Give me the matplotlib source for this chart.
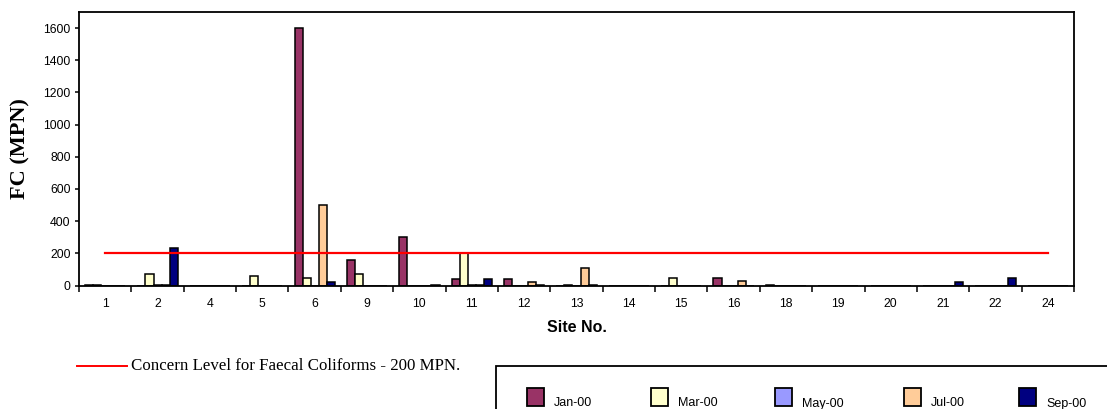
import numpy as np
import matplotlib
matplotlib.use("Agg")
import matplotlib.pyplot as plt
from matplotlib.patches import Rectangle
from matplotlib.lines import Line2D

# Faecal coliform counts (MPN) per sampling site and survey month
sites = ['1', '2', '4', '5', '6', '9', '10', '11', '12', '13',
         '14', '15', '16', '18', '19', '20', '21', '22', '24']
months = ['Jan-00', 'Mar-00', 'May-00', 'Jul-00', 'Sep-00']
jan = [4, 0, 0, 0, 1600, 160, 300, 43, 43, 0, 0, 0, 45, 3, 0, 0, 0, 0, 0]
mar = [3, 70, 0, 58, 48, 72, 0, 200, 0, 3, 0, 45, 0, 0, 0, 0, 0, 0, 0]
may = [0, 3, 0, 0, 0, 0, 0, 3, 0, 0, 0, 0, 0, 0, 0, 0, 0, 0, 0]
jul = [0, 3, 0, 0, 500, 0, 0, 3, 20, 110, 0, 0, 30, 0, 0, 0, 0, 0, 0]
sep = [0, 233, 0, 0, 20, 0, 3, 43, 3, 3, 0, 0, 0, 0, 0, 0, 20, 45, 0]
concern_level = 200

colors = ['#993366', '#FFFFCC', '#9999FF', '#FFCC99', '#000080']
series = [jan, mar, may, jul, sep]

W, H = 1107, 409
fig = plt.figure(figsize=(W / 100, H / 100), dpi=100)
ax = fig.add_axes([79 / W, 1 - 285.5 / H, (1074 - 79) / W, (285.5 - 12) / H])

x = np.arange(len(sites))
bw = 1 / 6.5
for i, (vals, c) in enumerate(zip(series, colors)):
    ax.bar(x + (i - 2) * bw, vals, width=bw, color=c, edgecolor='black',
           linewidth=1.1, label=months[i], zorder=2)

# concern level line across all sites
ax.plot(x, [concern_level] * len(sites), color='#FF0000', lw=1.6, zorder=3)

ax.set_xlim(-0.5, len(sites) - 0.5)
ax.set_ylim(0, 1700)
ax.set_yticks(np.arange(0, 1601, 200))
ax.set_xticks(np.arange(-0.5, len(sites), 1))
ax.set_xticklabels([])
ax.set_xticks(x, minor=True)
ax.set_xticklabels(sites, minor=True)

for lab in ax.get_yticklabels() + ax.get_xticklabels(minor=True):
    lab.set_fontfamily('Liberation Sans')
    lab.set_fontsize(8.8)
ax.tick_params(axis='x', which='major', direction='out', length=4, width=1.1)
ax.tick_params(axis='x', which='minor', length=0, pad=9)
ax.tick_params(axis='y', direction='out', length=3, width=1.1, pad=3)
for s in ax.spines.values():
    s.set_linewidth(1.3)
    s.set_zorder(4)

ax.set_xlabel('Site No.', fontfamily='Liberation Sans', fontweight='bold',
              fontsize=11.5, labelpad=7)
ax.set_ylabel('FC (MPN)', fontfamily='Liberation Serif', fontweight='bold',
              fontsize=16, labelpad=9)

# concern level key
fig.add_artist(Line2D([77 / W, 127 / W], [1 - 366 / H] * 2, color='#FF0000', lw=1.4))
fig.text(131 / W, 1 - 366 / H, 'Concern Level for Faecal Coliforms - 200 MPN.',
         fontfamily='Liberation Serif', fontsize=12.2, va='center', ha='left')

# month key box
fig.add_artist(Rectangle((496 / W, -0.05), (W + 20 - 496) / W, 0.05 + (H - 366) / H,
                         transform=fig.transFigure, fill=False, edgecolor='black',
                         linewidth=1.3, clip_on=False))
patch_x = [527, 651, 775, 904, 1019]
for px, c, m in zip(patch_x, colors, months):
    fig.add_artist(Rectangle((px / W, 1 - 406 / H), 17 / W, 18 / H,
                             transform=fig.transFigure, facecolor=c,
                             edgecolor='black', linewidth=1.3))
    fig.text((px + 27) / W, 1 - 403.5 / H, m, fontfamily='Liberation Sans',
             fontsize=9, va='center', ha='left')

fig.savefig('out.png', dpi=100)
